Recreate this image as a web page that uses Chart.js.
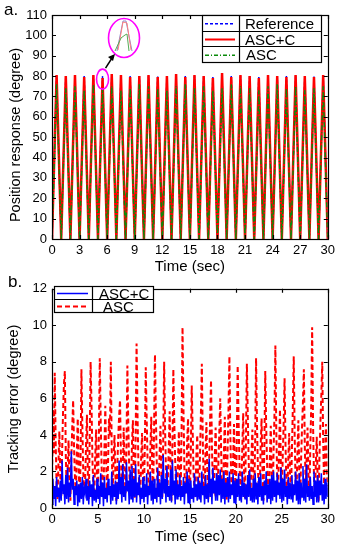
<!DOCTYPE html>
<html>
<head>
<meta charset="utf-8">
<script src="https://cdn.jsdelivr.net/npm/chart.js@4/dist/chart.umd.min.js"></script>
<style>
  html, body { margin: 0; padding: 0; background: #fff; }
  canvas { display: block; }
</style>
</head>
<body>
<canvas id="chartPos" width="339" height="276"></canvas>
<canvas id="chartErr" width="339" height="274"></canvas>
<script>
// ---- (a) position response: vertices of the triangle waves ----
const posTime = [0,0.5,1,1.5,2,2.5,3,3.5,4,4.5,5,5.5,6,6.5,7,7.5,8,8.5,9,9.5,
  10,10.5,11,11.5,12,12.5,13,13.5,14,14.5,15,15.5,16,16.5,17,17.5,18,18.5,19,19.5,
  20,20.5,21,21.5,22,22.5,23,23.5,24,24.5,25,25.5,26,26.5,27,27.5,28,28.5,29,29.5,30];
const refPos = [0,80,0,80,0,80,0,80,0,80,0,80,0,80,0,80,0,80,0,80,
  0,80,0,80,0,80,0,80,0,80,0,80,0,80,0,80,0,80,0,80,
  0,80,0,80,0,80,0,80,0,80,0,80,0,80,0,80,0,80,0,80,0];
const ascCPos = [0,80.5,0,80,0,80.5,0,79.5,0,80.5,0,79,0,81,0,80.5,0,79.5,0,80,
  0,80.5,0,79.5,0,80,0,81,0,79.5,0,80.5,0,80,0,79,0,81.5,0,79.5,
  0,80.5,0,80,0,79,0,80.5,0,80,0,79.5,0,80.5,0,80,0,79.5,0,80.5,0];
const ascPos = [0,76,0,74,0,75,0,73,0,76,0,74,0,75,0,73,0,74,0,76,
  0,75,0,74,0,73,0,75,0,76,0,74,0,75,0,73,0,74,0,76,
  0,75,0,74,0,73,0,75,0,76,0,74,0,75,0,73,0,74,0,75,0];
const posXTicks = [0,3,6,9,12,15,18,21,24,27,30];
const posYTicks = [0,10,20,30,40,50,60,70,80,90,100,110];

// ---- (b) tracking error, one sample every 0.1 s ----
const errStep = 0.1;
const ascErr = [
  1.5,5.4,3.0,7.4,3.6,1.2,0.5,2.4,4.2,1.8,
  0.6,3.1,5.2,6.8,7.5,2.9,1.0,2.1,3.7,1.3,
  0.4,2.7,4.4,5.9,3.3,1.6,0.8,3.0,4.9,2.2,
  0.7,2.3,7.6,4.5,2.0,0.9,1.4,3.4,5.1,1.9,
  0.5,3.6,8.0,5.6,2.6,1.1,0.6,2.8,4.3,1.5,
  0.9,4.0,8.2,4.7,2.2,0.8,1.2,3.1,5.6,2.4,
  0.6,2.5,4.9,3.9,8.0,3.0,1.0,2.6,4.0,1.7,
  0.4,2.2,3.8,5.0,5.9,2.7,0.7,1.9,4.4,2.0,
  0.8,3.3,7.8,4.6,2.1,0.9,1.3,3.5,4.8,1.6,
  0.5,3.9,9.0,5.2,2.4,1.0,0.6,2.7,4.1,1.4,
  0.7,3.4,7.7,4.9,2.5,1.2,0.8,3.2,5.0,2.3,
  0.5,4.2,8.4,5.1,2.3,0.9,1.1,2.9,4.5,1.8,
  0.6,3.7,8.0,4.4,2.0,0.7,1.5,3.3,5.3,2.1,
  0.4,3.2,7.6,4.8,2.6,1.1,0.9,2.5,4.2,1.6,
  0.7,4.5,9.9,5.5,2.2,0.8,1.2,3.6,4.9,2.0,
  0.5,3.0,6.7,4.3,1.9,0.9,0.6,2.8,4.0,1.5,
  0.6,2.9,5.2,7.9,3.8,1.4,0.8,3.1,4.7,1.9,
  0.5,2.6,4.8,7.0,3.3,1.2,1.0,2.7,4.4,2.2,
  0.8,2.4,4.1,6.0,3.1,1.0,0.7,3.0,5.0,1.7,
  0.4,3.1,5.4,8.3,4.0,1.5,0.9,2.6,4.6,2.0,
  0.6,3.5,7.8,4.7,2.3,1.0,1.2,3.3,5.2,1.8,
  0.5,3.8,7.9,5.0,2.5,0.8,0.7,2.9,4.3,1.6,
  0.7,3.6,8.2,4.6,2.1,1.1,1.0,3.4,4.9,2.1,
  0.4,3.3,7.5,4.5,2.4,0.9,0.8,2.7,4.5,1.9,
  0.6,3.0,5.1,8.9,4.2,1.6,1.1,3.2,5.4,2.3,
  0.5,2.8,4.6,7.1,3.5,1.3,0.7,2.6,4.1,1.7,
  0.7,3.2,5.5,8.3,3.9,1.4,0.9,3.0,4.8,2.0,
  0.5,2.7,4.4,5.8,7.6,3.4,1.2,2.8,4.4,1.8,
  0.6,3.3,5.6,9.9,4.6,1.7,0.8,2.4,3.9,1.5,
  0.4,2.9,4.7,6.2,8.0,3.6,1.3,2.9,4.6,2.0,
  1.2];
const ascCErr = [
  0.2,1.6,0.5,1.2,0.1,1.7,0.6,1.1,0.3,1.5,
  0.4,2.6,0.8,1.3,0.2,1.8,0.5,2.2,0.3,1.4,
  0.6,3.1,1.0,1.6,0.2,1.2,0.7,1.5,0.1,1.3,
  0.3,1.4,0.5,1.7,0.2,1.1,0.8,1.6,0.4,1.2,
  0.2,1.5,0.6,1.3,0.1,1.8,0.4,1.0,0.3,1.6,
  0.5,1.2,0.2,1.9,0.6,1.4,0.1,1.7,0.5,1.1,
  0.3,1.6,0.7,1.2,0.2,2.0,0.4,1.3,0.6,1.5,
  0.2,1.4,0.5,2.6,0.8,1.7,0.3,2.4,0.6,1.2,
  0.4,2.5,0.9,1.5,0.2,2.1,0.5,2.3,0.3,1.6,
  0.6,2.4,0.3,1.4,0.7,1.8,0.2,1.1,0.5,1.7,
  0.3,1.3,0.6,1.9,0.2,1.2,0.7,2.0,0.4,1.5,
  0.2,1.6,0.5,1.1,0.3,2.2,0.6,1.4,0.2,1.8,
  0.5,2.9,0.8,1.6,0.3,2.3,0.6,1.2,0.4,2.1,
  0.3,2.6,0.7,1.5,0.2,2.1,0.5,1.3,0.6,1.8,
  0.4,1.2,0.6,1.7,0.2,1.4,0.8,2.0,0.3,1.6,
  0.2,1.5,0.5,1.1,0.3,1.9,0.6,1.3,0.4,1.7,
  0.5,1.4,0.3,2.0,0.7,1.2,0.2,1.8,0.5,1.3,
  0.3,2.7,0.6,1.6,0.2,2.2,0.8,1.5,0.4,1.9,
  0.4,1.8,0.7,2.1,0.3,1.6,0.5,2.0,0.2,1.4,
  0.6,1.7,0.3,2.0,0.5,1.3,0.7,1.9,0.3,1.5,
  0.2,1.6,0.6,1.9,0.4,1.2,0.3,2.0,0.6,1.4,
  0.5,1.3,0.2,1.8,0.6,2.1,0.4,1.1,0.3,1.6,
  0.3,1.9,0.5,1.4,0.2,1.7,0.6,1.9,0.4,1.2,
  0.2,1.5,0.7,2.0,0.3,1.3,0.5,1.6,0.2,1.8,
  0.4,2.0,0.6,1.5,0.3,1.9,0.7,1.4,0.5,2.2,
  0.3,1.6,0.4,2.1,0.6,1.2,0.2,1.7,0.5,1.4,
  0.5,1.8,0.3,1.3,0.7,2.0,0.4,1.5,0.2,1.9,
  0.2,1.4,0.6,2.3,0.4,1.6,0.3,2.4,0.6,1.2,
  0.4,1.7,0.5,1.2,0.2,2.0,0.6,1.5,0.3,1.8,
  0.3,1.5,0.7,1.9,0.4,1.3,0.2,1.6,0.5,1.4,
  0.6];
const errXTicks = [0,5,10,15,20,25,30];
const errYTicks = [0,2,4,6,8,10,12];

const FONT = 'Liberation Sans, Arial, sans-serif';
const BLUE = '#0000ff', RED = '#ff0000', GREEN = '#0a8a0a', MAGENTA = '#ff00ff';

/**
 * Pairs x and y arrays into {x, y} points for a linear x axis.
 */
function toPoints(xs, ys) {
    return ys.map((v, i) => ({ x: xs[i], y: v }));
}

function toTimePoints(ys, step) {
    return ys.map((v, i) => ({ x: +(i * step).toFixed(2), y: v }));
}

/**
 * Box around the plot with inward ticks on all four sides.
 */
function drawFrame(chart) {
    const { ctx, chartArea: a } = chart;
    const sx = chart.scales.x, sy = chart.scales.y;
    const len = 4;
    ctx.save();
    ctx.strokeStyle = '#000';
    ctx.lineWidth = 1.2;
    ctx.beginPath();
    sx.ticks.forEach(t => {
        const px = Math.round(sx.getPixelForValue(t.value)) + 0.5;
        ctx.moveTo(px, a.bottom); ctx.lineTo(px, a.bottom - len);
        ctx.moveTo(px, a.top); ctx.lineTo(px, a.top + len);
    });
    sy.ticks.forEach(t => {
        const py = Math.round(sy.getPixelForValue(t.value)) + 0.5;
        ctx.moveTo(a.left, py); ctx.lineTo(a.left + len, py);
        ctx.moveTo(a.right, py); ctx.lineTo(a.right - len, py);
    });
    ctx.stroke();
    ctx.strokeRect(Math.round(a.left) + 0.5, Math.round(a.top) + 0.5,
        Math.round(a.right - a.left), Math.round(a.bottom - a.top));
    ctx.restore();
}

/**
 * Vertical axis title, rotated, centred on (x, y).
 */
function drawYTitle(ctx, text, x, y) {
    ctx.save();
    ctx.translate(x, y);
    ctx.rotate(-Math.PI / 2);
    ctx.font = '14.5px ' + FONT;
    ctx.fillStyle = '#000';
    ctx.textAlign = 'center';
    ctx.textBaseline = 'middle';
    ctx.fillText(text, 0, 0);
    ctx.restore();
}

/**
 * Legend drawn as a small table: sample line | label.
 */
function drawLegendTable(ctx, box, rows) {
    const rowH = box.h / rows.length;
    ctx.save();
    ctx.fillStyle = '#fff';
    ctx.fillRect(box.x, box.y, box.w, box.h);
    ctx.strokeStyle = '#000';
    ctx.lineWidth = 1.2;
    ctx.strokeRect(box.x + 0.5, box.y + 0.5, box.w, box.h);
    ctx.beginPath();
    ctx.moveTo(box.x + box.split + 0.5, box.y);
    ctx.lineTo(box.x + box.split + 0.5, box.y + box.h);
    for (let i = 1; i < rows.length; i++) {
        const y = Math.round(box.y + i * rowH) + 0.5;
        ctx.moveTo(box.x, y); ctx.lineTo(box.x + box.w, y);
    }
    ctx.stroke();
    ctx.font = '15px ' + FONT;
    ctx.textBaseline = 'middle';
    rows.forEach((r, i) => {
        const cy = box.y + (i + 0.5) * rowH + 1;
        ctx.strokeStyle = r.color;
        ctx.lineWidth = r.width;
        ctx.setLineDash(r.dash || []);
        ctx.beginPath();
        ctx.moveTo(box.x + 3, cy);
        ctx.lineTo(box.x + box.split - 4, cy);
        ctx.stroke();
        ctx.setLineDash([]);
        ctx.fillStyle = '#000';
        ctx.fillText(r.label, box.x + box.split + r.indent, cy + 1);
    });
    ctx.restore();
}

function drawZoomInset(chart) {
    const { ctx } = chart;
    const sx = chart.scales.x, sy = chart.scales.y;
    const px = sx.getPixelForValue(5.5), py = sy.getPixelForValue(79);
    ctx.save();
    ctx.strokeStyle = MAGENTA;
    ctx.lineWidth = 1.6;
    ctx.beginPath();
    ctx.ellipse(px, py + 1, 6, 10, 0, 0, Math.PI * 2);
    ctx.stroke();
    // big ellipse with magnified peak
    const cx = 124, cy = 38;
    ctx.beginPath();
    ctx.ellipse(cx, cy, 15.5, 19.5, 0, 0, Math.PI * 2);
    ctx.stroke();
    ctx.lineWidth = 1;
    const curves = [
        { c: '#8888cc', p: [[-7, 13], [-1, -17], [2, -17], [8, 13]] },
        { c: '#ff8080', p: [[-6, 12], [-1, -16], [3, -15], [7, 12]] },
        { c: '#55aa55', p: [[-9, 13], [-3, 0], [1, -3], [3, -4], [5, 13]] }
    ];
    curves.forEach(k => {
        ctx.strokeStyle = k.c;
        ctx.beginPath();
        k.p.forEach((q, i) => i ? ctx.lineTo(cx + q[0], cy + q[1]) : ctx.moveTo(cx + q[0], cy + q[1]));
        ctx.stroke();
    });
    // arrow
    ctx.strokeStyle = '#000';
    ctx.fillStyle = '#000';
    ctx.lineWidth = 1.5;
    ctx.beginPath();
    ctx.moveTo(px + 3, py - 10);
    ctx.lineTo(112, 58);
    ctx.stroke();
    ctx.beginPath();
    ctx.moveTo(115, 54);
    ctx.lineTo(108, 57);
    ctx.lineTo(113, 61);
    ctx.closePath();
    ctx.fill();
    ctx.restore();
}

function drawPanelLabel(ctx, text, x, y) {
    ctx.save();
    ctx.font = '17px ' + FONT;
    ctx.fillStyle = '#000';
    ctx.textBaseline = 'alphabetic';
    ctx.fillText(text, x, y);
    ctx.restore();
}

function axisOptions(min, max, tickList, title, fixedSize, isX, titlePad) {
    return {
        type: 'linear',
        min: min,
        max: max,
        afterBuildTicks: s => { s.ticks = tickList.map(v => ({ value: v })); },
        afterFit: s => { if (isX) s.height = fixedSize; else s.width = fixedSize; },
        grid: { display: false, drawTicks: false },
        border: { display: false },
        ticks: { color: '#000', padding: isX ? 4 : 5, font: { family: FONT, size: 13 }, maxRotation: 0, autoSkip: false },
        title: { display: isX, text: title, color: '#000', font: { family: FONT, size: 15 }, padding: titlePad }
    };
}

const posChart = new Chart(document.getElementById('chartPos'), {
    type: 'line',
    data: {
        datasets: [
            { label: 'Reference', data: toPoints(posTime, refPos), borderColor: BLUE, borderWidth: 1.5, borderDash: [3, 2], order: 3 },
            { label: 'ASC+C', data: toPoints(posTime, ascCPos), borderColor: RED, borderWidth: 2.5, order: 2 },
            { label: 'ASC', data: toPoints(posTime, ascPos), borderColor: GREEN, borderWidth: 1.5, borderDash: [5, 2, 1, 2], order: 1 }
        ]
    },
    options: {
        responsive: false,
        animation: false,
        layout: { padding: { top: 15, right: 10, left: 0, bottom: 0 } },
        elements: { point: { radius: 0 }, line: { tension: 0 } },
        plugins: { legend: { display: false }, tooltip: { enabled: false } },
        scales: {
            x: axisOptions(0, 30, posXTicks, 'Time (sec)', 37, true, { top: 0, bottom: 0 }),
            y: axisOptions(0, 110, posYTicks, 'Position response (degree)', 52, false, {})
        }
    },
    plugins: [{
        id: 'decorPos',
        afterDraw(chart) {
            drawFrame(chart);
            drawZoomInset(chart);
            drawLegendTable(chart.ctx, { x: 202, y: 15, w: 119, h: 47, split: 37 }, [
                { label: 'Reference', color: BLUE, width: 1.5, dash: [3, 2], indent: 6 },
                { label: 'ASC+C', color: RED, width: 2, indent: 6 },
                { label: 'ASC', color: GREEN, width: 1.5, dash: [4, 2, 1, 2], indent: 7 }
            ]);
            drawYTitle(chart.ctx, 'Position response (degree)', 16, 135);
            drawPanelLabel(chart.ctx, 'a.', 4, 15);
        }
    }]
});

const errChart = new Chart(document.getElementById('chartErr'), {
    type: 'line',
    data: {
        datasets: [
            { label: 'ASC+C', data: toTimePoints(ascCErr, errStep), borderColor: BLUE, borderWidth: 1.5, order: 1 },
            { label: 'ASC', data: toTimePoints(ascErr, errStep), borderColor: RED, borderWidth: 2, borderDash: [5, 3], order: 2 }
        ]
    },
    options: {
        responsive: false,
        animation: false,
        layout: { padding: { top: 9, right: 10, left: 0, bottom: 0 } },
        elements: { point: { radius: 0 }, line: { tension: 0 } },
        plugins: { legend: { display: false }, tooltip: { enabled: false } },
        scales: {
            x: axisOptions(0, 30, errXTicks, 'Time (sec)', 42, true, { top: 0, bottom: 4 }),
            y: axisOptions(0, 12, errYTicks, 'Tracking error (degree)', 52, false, {})
        }
    },
    plugins: [{
        id: 'decorErr',
        afterDraw(chart) {
            drawFrame(chart);
            drawLegendTable(chart.ctx, { x: 54, y: 10, w: 99, h: 26, split: 38 }, [
                { label: 'ASC+C', color: BLUE, width: 1.5, indent: 7 },
                { label: 'ASC', color: RED, width: 2, dash: [5, 3], indent: 11 }
            ]);
            drawYTitle(chart.ctx, 'Tracking error (degree)', 14, 123);
            drawPanelLabel(chart.ctx, 'b.', 8, 11);
        }
    }]
});
</script>
</body>
</html>
